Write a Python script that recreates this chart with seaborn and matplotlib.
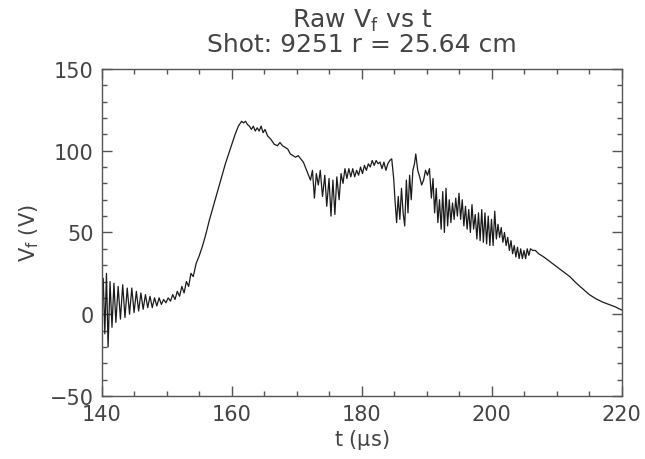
import matplotlib
matplotlib.use("Agg")
import matplotlib.pyplot as plt
import seaborn as sns
import pandas as pd
from matplotlib.ticker import MultipleLocator

# ---- data ----
t_us = [
    140.0, 140.2, 140.45, 140.7, 140.95, 141.25, 141.55, 141.85, 142.15, 142.5,
    142.85, 143.2, 143.55, 143.9, 144.25, 144.6, 144.95, 145.3, 145.65, 146.0,
    146.35, 146.7, 147.05, 147.4, 147.75, 148.1, 148.45, 148.8, 149.15, 149.5,
    149.85, 150.2, 150.55, 150.9, 151.25, 151.6, 151.95, 152.3, 152.65, 153.0,
    153.35, 153.7, 154.05, 154.5, 155.0, 155.5, 156.0, 156.5, 157.0, 157.5,
    158.0, 158.5, 159.0, 159.5, 160.0, 160.5, 161.0, 161.5, 161.8, 162.1,
    162.4, 162.7, 163.0, 163.3, 163.6, 163.9, 164.2, 164.5, 164.8, 165.1,
    165.5, 166.0, 166.5, 167.0, 167.4, 167.8, 168.2, 168.6, 169.0, 169.4,
    169.8, 170.2, 170.6, 171.0, 171.4, 171.8, 172.1, 172.4, 172.7, 173.0,
    173.3, 173.6, 173.95, 174.3, 174.6, 174.95, 175.25, 175.55, 175.85, 176.15,
    176.5, 176.8, 177.1, 177.4, 177.7, 178.0, 178.3, 178.6, 178.9, 179.2,
    179.5, 179.8, 180.1, 180.4, 180.7, 181.0, 181.3, 181.6, 181.9, 182.2,
    182.5, 182.8, 183.1, 183.4, 183.7, 184.0, 184.3, 184.6, 184.9, 185.1,
    185.35, 185.6, 185.85, 186.1, 186.35, 186.6, 186.85, 187.1, 187.35, 187.6,
    187.85, 188.1, 188.3, 188.6, 188.9, 189.2, 189.5, 189.8, 190.1, 190.4,
    190.7, 190.95, 191.2, 191.45, 191.7, 191.95, 192.2, 192.45, 192.7, 192.95,
    193.2, 193.45, 193.7, 193.95, 194.2, 194.45, 194.7, 194.95, 195.2, 195.45,
    195.7, 195.95, 196.2, 196.45, 196.7, 196.95, 197.2, 197.45, 197.7, 197.95,
    198.2, 198.45, 198.7, 198.95, 199.2, 199.45, 199.7, 199.95, 200.2, 200.45,
    200.7, 200.95, 201.2, 201.45, 201.7, 201.95, 202.2, 202.45, 202.7, 202.95,
    203.2, 203.45, 203.7, 203.95, 204.2, 204.45, 204.7, 204.95, 205.2, 205.45,
    205.7, 205.95, 206.3, 206.7, 207.2, 208.0, 209.0, 210.0, 211.0, 212.0,
    213.0, 214.0, 215.0, 216.0, 217.0, 218.0, 219.0, 220.0,
]
vf_volts = [
    5, 22, -12, 25, -20, 20, -8, 19, -5, 17,
    -3, 18, -2, 16, 0, 16, 1, 14, 2, 13,
    3, 12, 4, 11, 4, 10, 5, 10, 6, 9,
    7, 10, 8, 12, 9, 14, 11, 17, 13, 20,
    17, 25, 23, 31, 36, 42, 49, 57, 64, 71,
    78, 85, 92, 98, 104, 110, 115, 118, 117, 118,
    116, 115, 113, 115, 112, 114, 112, 115, 111, 113,
    109, 107, 104, 103, 105, 103, 102, 101, 98, 97,
    96, 97, 95, 93, 89, 85, 82, 88, 71, 86,
    79, 88, 72, 85, 66, 83, 60, 82, 61, 84,
    70, 86, 80, 89, 83, 89, 84, 89, 84, 88,
    85, 90, 86, 91, 88, 92, 90, 94, 91, 94,
    92, 93, 89, 93, 88, 92, 94, 95, 83, 70,
    56, 72, 58, 77, 62, 54, 82, 62, 85, 70,
    88, 92, 98, 88, 84, 79, 82, 88, 85, 89,
    71, 83, 62, 77, 56, 70, 52, 75, 50, 77,
    54, 70, 56, 68, 58, 71, 60, 74, 58, 70,
    54, 66, 52, 64, 50, 67, 52, 61, 46, 62,
    45, 64, 44, 62, 43, 60, 42, 58, 42, 63,
    46, 55, 47, 53, 44, 50, 42, 47, 39, 45,
    37, 42, 35, 41, 34, 40, 34, 39, 34, 40,
    36, 40, 39, 39, 37, 35, 32, 29, 26, 23,
    19, 15.5, 12, 9.5, 7.5, 6, 4.5, 2.5,
]
x_ticks = [140, 160, 180, 200, 220]
y_ticks = [-50, 0, 50, 100, 150]
title_text = "Raw V$_\\mathregular{f}$ vs t\nShot: 9251 r = 25.64 cm"
x_label = "t ($\\mu$s)"
y_label = "V$_\\mathregular{f}$ (V)"

df = pd.DataFrame({"t": t_us, "Vf": vf_volts})

sns.set_theme(style="white")
plt.rcParams["font.family"] = ["DejaVu Sans"]
plt.rcParams["mathtext.default"] = "regular"

text_col = "#444444"
frame_col = "#555555"

fig = plt.figure(figsize=(6.45, 4.6), dpi=100)
ax = fig.add_axes([0.158, 0.137, 0.806, 0.711])

sns.lineplot(data=df, x="t", y="Vf", ax=ax, color="#1a1a1a", linewidth=0.9,
             estimator=None, sort=False)

ax.set_xlim(140, 220)
ax.set_ylim(-50, 150)
ax.set_xticks(x_ticks)
ax.set_yticks(y_ticks)
ax.xaxis.set_minor_locator(MultipleLocator(5))
ax.yaxis.set_minor_locator(MultipleLocator(10))
ax.tick_params(which="both", direction="in", top=True, right=True,
               bottom=True, left=True, color=frame_col, width=1.0,
               labelsize=15, labelcolor=text_col)
ax.tick_params(which="major", length=7, pad=6)
ax.tick_params(which="minor", length=3.5)
for sp in ax.spines.values():
    sp.set_color(frame_col)
    sp.set_linewidth(1.0)

ax.set_xlabel(x_label, fontsize=15, color=text_col, labelpad=2)
ax.set_ylabel(y_label, fontsize=15, color=text_col, labelpad=6)
ax.set_title(title_text, fontsize=18, color=text_col, linespacing=0.95, pad=13)
ax.grid(False)

fig.savefig("out.png", dpi=100)
